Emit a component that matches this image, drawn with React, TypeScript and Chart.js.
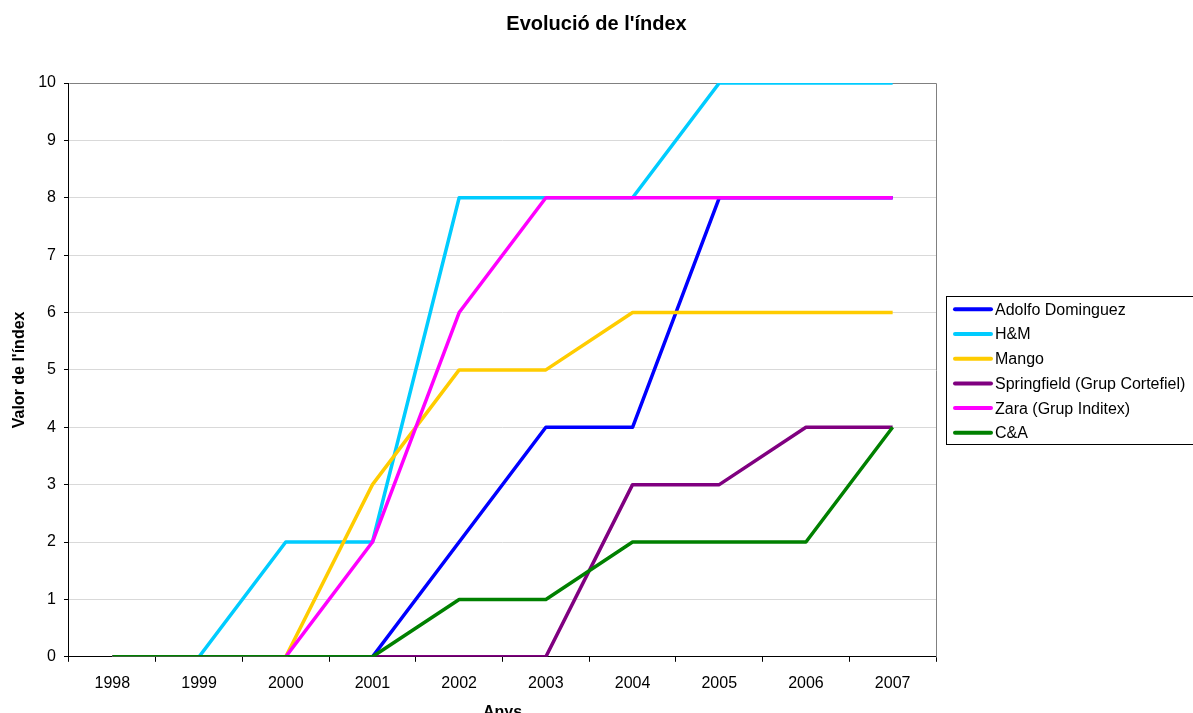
import React, { useEffect, useRef } from "react";
import { Chart, registerables } from "chart.js";

Chart.register(...registerables);

const years = ["1998", "1999", "2000", "2001", "2002", "2003", "2004", "2005", "2006", "2007"];
const adolfoDominguez = [0, 0, 0, 0, 2, 4, 4, 8, 8, 8];
const hm = [0, 0, 2, 2, 8, 8, 8, 10, 10, 10];
const mango = [0, 0, 0, 3, 5, 5, 6, 6, 6, 6];
const springfield = [0, 0, 0, 0, 0, 0, 3, 3, 4, 4];
const zara = [0, 0, 0, 2, 6, 8, 8, 8, 8, 8];
const cya = [0, 0, 0, 0, 1, 1, 2, 2, 2, 4];

const seriesNames = [
  "Adolfo Dominguez",
  "H&M",
  "Mango",
  "Springfield (Grup Cortefiel)",
  "Zara (Grup Inditex)",
  "C&A",
];
const seriesValues = [adolfoDominguez, hm, mango, springfield, zara, cya];
const seriesColors = ["#0000FF", "#00CCFF", "#FFCC00", "#800080", "#FF00FF", "#008000"];

const chartTitle = "Evolució de l'índex";
const xTitle = "Anys";
const yTitle = "Valor de l'índex";
const yMin = 0;
const yMax = 10;
const yStep = 1;

const FONT = "'Liberation Sans', Arial, Helvetica, sans-serif";
const W = 1193;
const H = 723;
const LEGEND_SPACE = 257;

const framePlugin = {
  id: "plotFrame",
  beforeDatasetsDraw(chart: any) {
    const { ctx, chartArea } = chart;
    ctx.save();
    ctx.strokeStyle = "#808080";
    ctx.lineWidth = 1;
    ctx.beginPath();
    ctx.moveTo(Math.round(chartArea.left) + 0.5, Math.round(chartArea.top) + 0.5);
    ctx.lineTo(Math.round(chartArea.right) + 0.5, Math.round(chartArea.top) + 0.5);
    ctx.lineTo(Math.round(chartArea.right) + 0.5, Math.round(chartArea.bottom) + 0.5);
    ctx.stroke();
    ctx.restore();
  },
};

const legendPlugin = {
  id: "boxLegend",
  afterDraw(chart: any) {
    const { ctx, chartArea } = chart;
    const datasets = chart.data.datasets;
    const rowH = 24.7;
    const boxLeft = Math.round(chartArea.right) + 10;
    const boxH = 148;
    const mid = (chartArea.top + chartArea.bottom) / 2;
    const boxTop = Math.round(mid - boxH / 2);
    ctx.save();
    ctx.fillStyle = "#ffffff";
    ctx.fillRect(boxLeft, boxTop, 400, boxH);
    ctx.strokeStyle = "#000000";
    ctx.lineWidth = 1;
    ctx.strokeRect(boxLeft + 0.5, boxTop + 0.5, 400, boxH);
    ctx.font = `16px ${FONT}`;
    ctx.textBaseline = "middle";
    ctx.textAlign = "left";
    datasets.forEach((ds: any, i: number) => {
      const y = boxTop + 13.3 + i * rowH;
      ctx.strokeStyle = ds.borderColor;
      ctx.lineWidth = 4;
      ctx.lineCap = "round";
      ctx.beginPath();
      ctx.moveTo(boxLeft + 9, y);
      ctx.lineTo(boxLeft + 45, y);
      ctx.stroke();
      ctx.fillStyle = "#000000";
      ctx.fillText(ds.label, boxLeft + 49, y + 1);
    });
    ctx.restore();
  },
};

export default function App() {
  const canvasRef = useRef<HTMLCanvasElement | null>(null);

  useEffect(() => {
    const canvas = canvasRef.current;
    if (!canvas) return;
    const chart = new Chart(canvas, {
      type: "line",
      data: {
        labels: years,
        datasets: seriesNames.map((name, i) => ({
          label: name,
          data: seriesValues[i],
          borderColor: seriesColors[i],
          backgroundColor: seriesColors[i],
          borderWidth: 3.5,
          pointRadius: 0,
          pointHoverRadius: 0,
          tension: 0,
          fill: false,
          borderJoinStyle: "round" as const,
          order: seriesNames.length - i,
          yAxisID: "y",
        })),
      },
      options: {
        responsive: false,
        animation: false,
        devicePixelRatio: 1,
        layout: { padding: { left: 0, right: 0, top: 0, bottom: 0 } },
        plugins: {
          legend: { display: false },
          tooltip: { enabled: false },
          title: {
            display: true,
            text: chartTitle,
            color: "#000",
            font: { family: FONT, size: 20, weight: "bold" },
            padding: { top: 12, bottom: 47 },
          },
        },
        scales: {
          x: {
            type: "category",
            offset: true,
            grid: {
              offset: true,
              drawOnChartArea: false,
              drawTicks: true,
              tickLength: 5,
              tickColor: "#000",
            },
            border: { color: "#000", width: 1 },
            ticks: {
              color: "#000",
              font: { family: FONT, size: 16 },
              padding: 12,
              maxRotation: 0,
              autoSkip: false,
            },
            title: {
              display: true,
              text: xTitle,
              color: "#000",
              font: { family: FONT, size: 16, weight: "bold", lineHeight: 1 },
              padding: { top: 0, bottom: 2 },
            },
          },
          y: {
            min: yMin,
            max: yMax,
            grid: {
              color: (c: any) => (c.tick && c.tick.value === 0 ? "rgba(0,0,0,0)" : "#d9d9d9"),
              tickColor: "#000",
              tickLength: 5,
              drawTicks: true,
            },
            border: { color: "#000", width: 1 },
            ticks: {
              stepSize: yStep,
              color: "#000",
              font: { family: FONT, size: 16 },
              padding: 8,
            },
            title: {
              display: true,
              text: yTitle,
              color: "#000",
              font: { family: FONT, size: 16, weight: "bold" },
              padding: { top: 10, bottom: 1 },
            },
          },
          legendSpace: {
            type: "linear",
            position: "right",
            display: true,
            grid: { display: false, drawTicks: false },
            border: { display: false },
            ticks: { display: false },
            afterFit: (scale: any) => {
              scale.width = LEGEND_SPACE;
            },
          },
        },
      },
      plugins: [framePlugin, legendPlugin],
    });
    return () => chart.destroy();
  }, []);

  return (
    <div
      style={{
        position: "fixed",
        left: 0,
        top: 0,
        width: W,
        height: 713,
        overflow: "hidden",
        background: "#fff",
      }}
    >
      <canvas ref={canvasRef} width={W} height={H} style={{ display: "block", width: W, height: H }} />
    </div>
  );
}
